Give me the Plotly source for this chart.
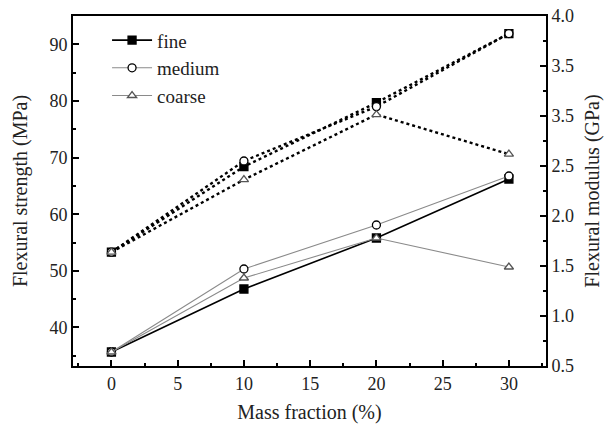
import plotly.graph_objects as go

# Mass fraction of filler (%)
mass_fraction = [0, 10, 20, 30]

# Flexural strength (MPa) -> dotted lines, left axis
strength_fine = [53.3, 68.4, 79.7, 91.9]
strength_medium = [53.3, 69.4, 79.0, 91.9]
strength_coarse = [53.3, 66.1, 77.6, 70.6]

# Flexural modulus (GPa) -> solid lines, right axis
modulus_fine = [0.64, 1.27, 1.78, 2.37]
modulus_medium = [0.64, 1.47, 1.91, 2.40]
modulus_coarse = [0.64, 1.38, 1.78, 1.49]

# Right-axis tick labels as printed
modulus_tickvals = [0.5, 1.0, 1.5, 2.0, 2.5, 3.0, 3.5, 4.0]
modulus_ticktext = ["0.5", "1.0", "1.5", "2.0", "2.5", "3.5", "3.5", "4.0"]

FONT = "Liberation Serif"

series = [
    ("fine", strength_fine, modulus_fine, "square", "black", "black", "black", 1.6),
    ("medium", strength_medium, modulus_medium, "circle", "white", "black", "#8a8a8a", 1.1),
    ("coarse", strength_coarse, modulus_coarse, "triangle-up", "white", "#555555", "#8a8a8a", 1.1),
]

fig = go.Figure()

for name, strength, modulus, symbol, fill, edge, line_color, lw in series:
    marker = dict(symbol=symbol, size=8, color=fill, line=dict(color=edge, width=1.3))
    # strength: dotted
    fig.add_trace(go.Scatter(
        x=mass_fraction, y=strength, mode="lines+markers", name=name,
        line=dict(color="black", width=2.4, dash="dot"),
        marker=marker, showlegend=False, yaxis="y", legendgroup=name,
    ))
    # modulus: solid
    fig.add_trace(go.Scatter(
        x=mass_fraction, y=modulus, mode="lines+markers", name=name,
        line=dict(color=line_color, width=lw),
        marker=marker, showlegend=True, yaxis="y2", legendgroup=name,
    ))

axis_common = dict(
    showline=True, linecolor="black", linewidth=2,
    ticks="inside", ticklen=6, tickwidth=2, tickcolor="black",
    showgrid=False, zeroline=False, automargin=False,
    tickfont=dict(family=FONT, size=18, color="#222"),
)
title_font = dict(family=FONT, size=20, color="#222")

fig.update_layout(
    width=615, height=424,
    margin=dict(l=73, r=69, t=16, b=58),
    paper_bgcolor="white", plot_bgcolor="white",
    font=dict(family=FONT, color="#222"),
    xaxis=dict(
        range=[-2.9, 32.8], tick0=0, dtick=5, mirror=True,
        minor=dict(dtick=2.5, ticks="inside", ticklen=3, tickwidth=1.5, tickcolor="black"),
        title=dict(text="Mass fraction (%)", font=title_font, standoff=12),
        **axis_common,
    ),
    yaxis=dict(
        range=[33.2, 95], tick0=0, dtick=10,
        minor=dict(dtick=5, ticks="inside", ticklen=3, tickwidth=1.5, tickcolor="black"),
        title=dict(text="Flexural strength (MPa)", font=title_font, standoff=16),
        **axis_common,
    ),
    yaxis2=dict(
        range=[0.5, 4.0], overlaying="y", side="right",
        tickvals=modulus_tickvals, ticktext=modulus_ticktext,
        minor=dict(dtick=0.25, tick0=0.5, ticks="inside", ticklen=3, tickwidth=1.5, tickcolor="black"),
        title=dict(text="Flexural modulus (GPa)", font=title_font, standoff=12),
        **axis_common,
    ),
    legend=dict(
        x=0.072, y=0.985, xanchor="left", yanchor="top",
        bgcolor="rgba(0,0,0,0)", tracegroupgap=0,
        font=dict(family=FONT, size=19, color="#222"),
        itemwidth=40,
    ),
)

fig.write_html("out.html")
